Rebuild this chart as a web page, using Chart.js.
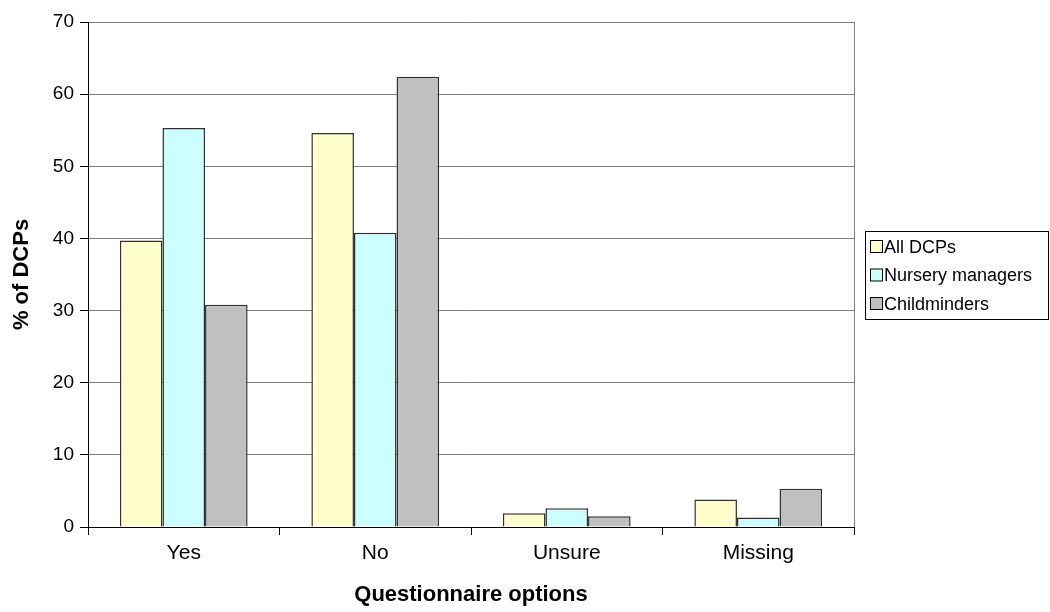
<!DOCTYPE html>
<html>
<head>
<meta charset="utf-8">
<script src="https://cdn.jsdelivr.net/npm/chart.js@4.4.1/dist/chart.umd.min.js"></script>
<style>
  html, body { margin: 0; padding: 0; background: #fff; }
  #wrap { width: 1050px; height: 612px; position: relative; }
</style>
</head>
<body>
<div id="wrap"><canvas id="chart" width="1050" height="612"></canvas></div>
<script>
// data
const categories = ["Yes", "No", "Unsure", "Missing"];
const allDCPs = [39.7, 54.6, 1.9, 3.8];
const nurseryManagers = [55.3, 40.8, 2.6, 1.3];
const childminders = [30.8, 62.4, 1.5, 5.3];
const seriesNames = ["All DCPs", "Nursery managers", "Childminders"];
const seriesColors = ["#FFFFCC", "#CCFFFF", "#C0C0C0"];

const FONT = "'Liberation Sans', Arial, sans-serif";

// legend in a box, drawn by hand like the excel one
const boxLegend = {
  id: "boxLegend",
  afterDraw(chart) {
    const ctx = chart.ctx;
    const x = 865, y = 231, w = 183, h = 88;
    ctx.save();
    ctx.strokeStyle = "#000";
    ctx.lineWidth = 1;
    ctx.strokeRect(x + 0.5, y + 0.5, w, h);
    ctx.font = "18px " + FONT;
    ctx.textBaseline = "middle";
    chart.data.datasets.forEach((ds, i) => {
      const cy = y + 16 + i * 28.5;
      ctx.fillStyle = ds.backgroundColor;
      ctx.fillRect(870.5, cy - 6.5, 12, 12);
      ctx.strokeStyle = "#000";
      ctx.strokeRect(870.5, cy - 6.5, 12, 12);
      ctx.fillStyle = "#000";
      ctx.fillText(ds.label, 884, cy + 1);
    });
    ctx.restore();
  }
};

// right border of plot area
const plotFrame = {
  id: "plotFrame",
  beforeDatasetsDraw(chart) {
    const a = chart.chartArea, ctx = chart.ctx;
    ctx.save();
    ctx.strokeStyle = "#808080";
    ctx.lineWidth = 1;
    ctx.beginPath();
    ctx.moveTo(Math.round(a.right) + 0.5, a.top);
    ctx.lineTo(Math.round(a.right) + 0.5, a.bottom);
    ctx.stroke();
    ctx.restore();
  }
};

new Chart(document.getElementById("chart"), {
  type: "bar",
  data: {
    labels: categories,
    datasets: [
      { label: seriesNames[0], data: allDCPs, backgroundColor: seriesColors[0] },
      { label: seriesNames[1], data: nurseryManagers, backgroundColor: seriesColors[1] },
      { label: seriesNames[2], data: childminders, backgroundColor: seriesColors[2] }
    ]
  },
  options: {
    responsive: false,
    animation: false,
    devicePixelRatio: 1,
    layout: { padding: { top: 22, right: 196, left: 0, bottom: 0 } },
    datasets: {
      bar: {
        borderColor: "#303030",
        borderWidth: 1.5,
        categoryPercentage: 0.667,
        barPercentage: 1
      }
    },
    plugins: {
      legend: { display: false },
      tooltip: { enabled: false }
    },
    scales: {
      x: {
        offset: true,
        grid: {
          offset: true,
          drawOnChartArea: false,
          color: "#000",
          tickLength: 8
        },
        border: { color: "#000", width: 1 },
        ticks: { color: "#000", font: { family: FONT, size: 21 }, padding: 6 },
        title: {
          display: true,
          text: "Questionnaire options",
          color: "#000",
          font: { family: FONT, size: 22, weight: "bold" },
          padding: { top: 6 }
        },
        afterFit(scale) { scale.height = 85; }
      },
      y: {
        min: 0,
        max: 70,
        ticks: { stepSize: 10, color: "#000", font: { family: FONT, size: 19 }, padding: 6 },
        grid: { color: "#808080", tickLength: 8, tickColor: "#000" },
        border: { color: "#000", width: 1 },
        title: {
          display: true,
          text: "% of DCPs",
          color: "#000",
          font: { family: FONT, size: 22, weight: "bold" },
          padding: { top: 9, bottom: 4 }
        },
        afterFit(scale) { scale.width = 88; }
      }
    }
  },
  plugins: [plotFrame, boxLegend]
});
</script>
</body>
</html>
